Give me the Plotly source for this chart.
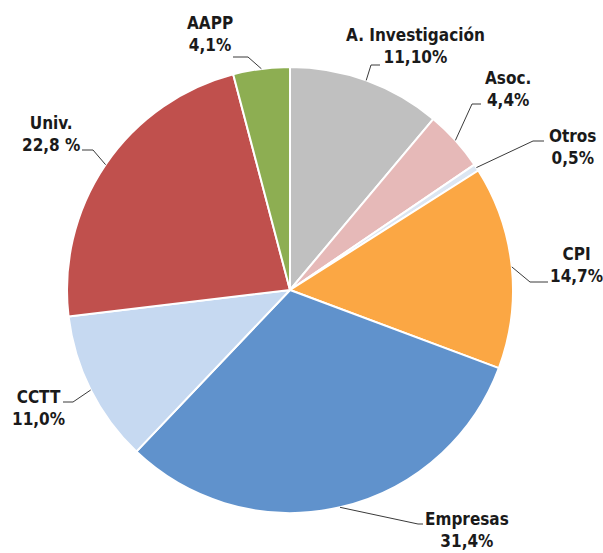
import math
import plotly.graph_objects as go

# ---- data ----
categories = ["A. Investigación", "Asoc.", "Otros", "CPI", "Empresas", "CCTT", "Univ.", "AAPP"]
values = [11.10, 4.4, 0.5, 14.7, 31.4, 11.0, 22.8, 4.1]
value_labels = ["11,10%", "4,4%", "0,5%", "14,7%", "31,4%", "11,0%", "22,8 %", "4,1%"]
colors = ["#C0C0C0", "#E6B9B8", "#DCE6F2", "#FBA744", "#6092CC", "#C6D9F1", "#C0504D", "#8DAE52"]

# ---- layout (pixels) ----
W, H = 603, 553
CX, CY, R = 290, 290, 223
# label block centre, elbow point, leader end (pixels)
label_pos = {
    "A. Investigación": ((415, 46), (371, 65), (380, 65)),
    "Asoc.": ((508, 89), (472, 104), (481, 104)),
    "Otros": ((572, 147), (533, 141), (544, 141)),
    "CPI": ((576, 265), (530, 282), (548, 282)),
    "Empresas": ((467, 530), (418, 524), (423, 524)),
    "CCTT": ((38, 408), (73, 402), (63, 402)),
    "Univ.": ((51, 134), (93, 150), (82, 150)),
    "AAPP": ((210, 34), (248, 57), (233, 57)),
}

fig = go.Figure()
fig.add_trace(go.Pie(
    labels=categories, values=values, sort=False, direction="clockwise", rotation=0,
    marker=dict(colors=colors, line=dict(color="white", width=2)),
    textinfo="none", hoverinfo="label+percent", showlegend=False,
    domain=dict(x=[(CX - R) / W, (CX + R) / W], y=[1 - (CY + R) / H, 1 - (CY - R) / H]),
))
# invisible pixel-space axes for labels/leaders
fig.add_trace(go.Scatter(x=[0, W], y=[0, H], mode="markers", marker=dict(opacity=0),
                         showlegend=False, hoverinfo="skip"))

total = sum(values)
cum = 0.0
shapes = []
annotations = []
for cat, v, lab in zip(categories, values, value_labels):
    mid = (cum + v / 2) / total * 2 * math.pi
    cum += v
    ax_ = CX + R * math.sin(mid)
    ay_ = CY - R * math.cos(mid)
    (tx, ty), (bx, by), (ex, ey) = label_pos[cat]
    shapes.append(dict(type="path", xref="x", yref="y",
                       path=f"M {ax_:.1f},{ay_:.1f} L {bx},{by} L {ex},{ey}",
                       line=dict(color="#3a3a3a", width=1)))
    annotations.append(dict(x=tx, y=ty, xref="x", yref="y", text=f"{cat}<br>{lab}",
                            showarrow=False, xanchor="center", yanchor="middle",
                            font=dict(family="DejaVu Sans Condensed, Liberation Sans Narrow, Roboto",
                                      size=17, color="#1a1a1a", weight="bold")))

fig.update_layout(
    width=W, height=H, margin=dict(l=0, r=0, t=0, b=0),
    paper_bgcolor="white", plot_bgcolor="rgba(0,0,0,0)",
    xaxis=dict(range=[0, W], visible=False, domain=[0, 1], fixedrange=True),
    yaxis=dict(range=[H, 0], visible=False, domain=[0, 1], fixedrange=True),
    shapes=shapes, annotations=annotations,
)
fig.write_html("out.html", config={"displayModeBar": False},
               post_script="document.body.style.margin='0';document.body.style.overflow='hidden';")
